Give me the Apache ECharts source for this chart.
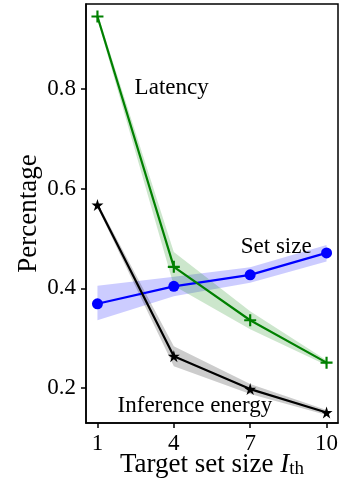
<!DOCTYPE html>
<html>
<head>
<meta charset="utf-8">
<script src="https://cdn.jsdelivr.net/npm/echarts@6/dist/echarts.min.js"></script>
<style>html,body{margin:0;padding:0;background:#fff;}#c{width:358px;height:482px;}</style>
</head>
<body>
<div id="c"></div>
<script>
const xs = [1, 4, 7, 10];
const xTicks = [1, 4, 7, 10];
const yTicks = [0.2, 0.4, 0.6, 0.8];
const latency = [0.945, 0.443, 0.336, 0.251];
const latencyLo = [0.939, 0.405, 0.318, 0.246];
const latencyHi = [0.951, 0.473, 0.354, 0.256];
const setSize = [0.369, 0.404, 0.427, 0.471];
const setSizeLo = [0.336, 0.384, 0.411, 0.454];
const setSizeHi = [0.405, 0.423, 0.442, 0.487];
const energy = [0.567, 0.264, 0.198, 0.151];
const energyLo = [0.562, 0.244, 0.188, 0.146];
const energyHi = [0.572, 0.284, 0.208, 0.156];
const labels = [
  {name: 'Latency', x: 2.46, y: 0.802},
  {name: 'Set size', x: 6.63, y: 0.483},
  {name: 'Inference energy', x: 1.79, y: 0.164}
];

const FONT = 'Liberation Serif';
const plusPath = 'path://M4.1,0H5.9V4.1H10V5.9H5.9V10H4.1V5.9H0V4.1H4.1Z';
const starPath = 'path://M10,0L12.245,6.91L19.51,6.91L13.63,11.18L15.88,18.09L10,13.82L4.12,18.09L6.37,11.18L0.49,6.91L7.755,6.91Z';

function band(lo, hi, color) {
  return {
    type: 'custom',
    z: 1,
    silent: true,
    data: xs.map((x, i) => [x, lo[i], hi[i]]),
    renderItem: function (params, api) {
      if (params.dataIndex !== 0) return {type: 'group', children: []};
      const pts = [];
      for (let i = 0; i < xs.length; i++) pts.push(api.coord([xs[i], hi[i]]));
      for (let i = xs.length - 1; i >= 0; i--) pts.push(api.coord([xs[i], lo[i]]));
      return {type: 'polygon', shape: {points: pts}, style: {fill: color}};
    }
  };
}
function line(vals, color, symbol, size) {
  return {
    type: 'line', z: 3,
    data: xs.map((x, i) => [x, vals[i]]),
    lineStyle: {color: color, width: 2.2},
    itemStyle: {color: color, opacity: 1},
    symbol: symbol, symbolSize: size, showSymbol: true,
    animation: false
  };
}

const chart = echarts.init(document.getElementById('c'));
chart.setOption({
  animation: false,
  grid: {left: 86, top: 4, width: 252, height: 419, outerBoundsMode: 'none', containLabel: false,
    show: true, borderColor: '#000', borderWidth: 1.5, backgroundColor: 'transparent'},
  xAxis: {
    type: 'value', min: 0.55, max: 10.45,
    splitLine: {show: false},
    axisLine: {show: true, lineStyle: {color: '#000', width: 1.5}},
    axisTick: {show: true, customValues: xTicks, length: 5, lineStyle: {color: '#000', width: 1.5}},
    axisLabel: {customValues: xTicks, color: '#000', fontFamily: FONT, fontSize: 23, margin: 9},
    name: 'Target set size {i|I}{s|th}',
    nameLocation: 'middle', nameGap: 28, nameMoveOverlap: false,
    nameTextStyle: {color: '#000', fontFamily: FONT, fontSize: 27,
      rich: {i: {fontFamily: FONT, fontSize: 27, fontStyle: 'italic', color: '#000'},
             s: {fontFamily: FONT, fontSize: 19, color: '#000', verticalAlign: 'bottom', padding: [9, 0, 0, 0]}}}
  },
  yAxis: {
    type: 'value', min: 0.13, max: 0.97,
    splitLine: {show: false},
    axisLine: {show: true, lineStyle: {color: '#000', width: 1.5}},
    axisTick: {show: true, customValues: yTicks, length: 5, lineStyle: {color: '#000', width: 1.5}},
    axisLabel: {customValues: yTicks, color: '#000', fontFamily: FONT, fontSize: 23, margin: 10,
      formatter: v => v.toFixed(1)},
    name: 'Percentage', nameLocation: 'middle', nameGap: 44, nameMoveOverlap: false,
    nameTextStyle: {color: '#000', fontFamily: FONT, fontSize: 27}
  },
  series: [
    band(setSizeLo, setSizeHi, 'rgba(0,0,255,0.2)'),
    band(latencyLo, latencyHi, 'rgba(0,128,0,0.2)'),
    band(energyLo, energyHi, 'rgba(0,0,0,0.2)'),
    line(setSize, '#0000ff', 'circle', 11),
    line(latency, '#008000', plusPath, 12),
    line(energy, '#000000', starPath, 12),
    {
      type: 'scatter', z: 4, symbolSize: 0, silent: true,
      itemStyle: {opacity: 1},
      data: labels.map(l => ({value: [l.x, l.y], name: l.name})),
      label: {show: true, position: 'right', distance: 0, formatter: p => p.name, opacity: 1,
        textBorderWidth: 0, color: '#000', fontFamily: FONT, fontSize: 23}
    }
  ]
});
</script>
</body>
</html>
